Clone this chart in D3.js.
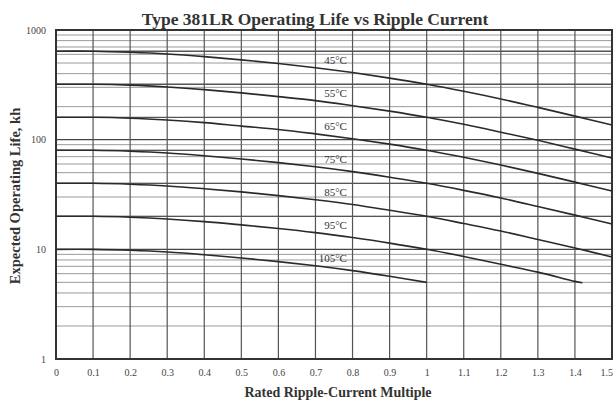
<!DOCTYPE html>
<html><head><meta charset="utf-8">
<script src="https://cdn.jsdelivr.net/npm/d3@7"></script>
<style>html,body{margin:0;padding:0;background:#fff;overflow:hidden}</style>
</head><body><svg id="c" width="613" height="404"></svg>
<script>
const title = "Type 381LR Operating Life vs Ripple Current";
const xTitle = "Rated Ripple-Current Multiple";
const yTitle = "Expected Operating Life, kh";
const xTicks = [0,0.1,0.2,0.3,0.4,0.5,0.6,0.7,0.8,0.9,1,1.1,1.2,1.3,1.4,1.5];
const xTickLabels = ["0","0.1","0.2","0.3","0.4","0.5","0.6","0.7","0.8","0.9","1","1.1","1.2","1.3","1.4","1.5"];
const yTicks = [1,10,100,1000];
const yTickLabels = ["1","10","100","1000"];
const heavyGrid = [20,40,80,160,320,640];
const seriesNames = ["45°C","55°C","65°C","75°C","85°C","95°C","105°C"];
const multiples = [0,0.1,0.2,0.3,0.4,0.5,0.6,0.7,0.8,0.9,1,1.1,1.2,1.3,1.4,1.5];
const multiples95 = [0,0.1,0.2,0.3,0.4,0.5,0.6,0.7,0.8,0.9,1,1.1,1.2,1.3,1.4,1.42];
const multiples105 = [0,0.1,0.2,0.3,0.4,0.5,0.6,0.7,0.8,0.9,1];
const life45 = [640,640,627,605,572,534,495,453,409,364,320,276,235,197,164,136];
const life55 = [320,320,314,302,286,267,247,227,204,182,160,138,117,98.6,82,68];
const life65 = [160,160,157,151,143,133,124,113,102,91,80,69,58.7,49.3,41,34];
const life75 = [80,80,78.4,75.6,71.4,66.7,61.8,56.6,51.1,45.4,40,34.5,29.4,24.6,20.5,17];
const life85 = [40,40,39.2,37.8,35.7,33.4,30.9,28.3,25.6,22.7,20,17.2,14.7,12.3,10.3,8.5];
const life95 = [20,20,19.6,18.9,17.9,16.7,15.5,14.2,12.8,11.4,10,8.6,7.3,6.2,5.1,4.95];
const life105 = [10,10,9.8,9.45,8.93,8.34,7.73,7.08,6.39,5.68,5.0];

const series = [
  {name: seriesNames[0], x: multiples, y: life45},
  {name: seriesNames[1], x: multiples, y: life55},
  {name: seriesNames[2], x: multiples, y: life65},
  {name: seriesNames[3], x: multiples, y: life75},
  {name: seriesNames[4], x: multiples, y: life85},
  {name: seriesNames[5], x: multiples95, y: life95},
  {name: seriesNames[6], x: multiples105, y: life105}
];

const svg = d3.select("#c");
const L = 56, R = 612, T = 30, B = 359;
const x = d3.scaleLinear().domain([0,1.5]).range([L,R]);
const y = d3.scaleLog().domain([1,1000]).range([B,T]);
const serif = "'Liberation Serif','DejaVu Serif',serif";

// minor horizontal grid
const minor = [];
for (let d = 1; d < 1000; d *= 10) for (let k = 2; k <= 9; k++) minor.push(d*k);
const g = svg.append("g");
g.selectAll("line.minor").data(minor).join("line")
  .attr("x1", L).attr("x2", R).attr("y1", d => y(d)).attr("y2", d => y(d))
  .attr("stroke", "#9a9a9a").attr("stroke-width", 1);
g.selectAll("line.heavy").data(heavyGrid).join("line")
  .attr("x1", L).attr("x2", R).attr("y1", d => y(d)).attr("y2", d => y(d))
  .attr("stroke", "#555").attr("stroke-width", 1.3);
g.selectAll("line.major").data(yTicks).join("line")
  .attr("x1", L).attr("x2", R).attr("y1", d => y(d)).attr("y2", d => y(d))
  .attr("stroke", "#444").attr("stroke-width", 1.4);
g.selectAll("line.vert").data(xTicks).join("line")
  .attr("x1", d => x(d)).attr("x2", d => x(d)).attr("y1", T).attr("y2", B)
  .attr("stroke", "#555").attr("stroke-width", 1.2);

// border
svg.append("rect").attr("x", L).attr("y", T).attr("width", R-L).attr("height", B-T)
  .attr("fill", "none").attr("stroke", "#333").attr("stroke-width", 2);

// axes via d3
const xAxis = d3.axisBottom(x).tickValues(xTicks).tickFormat((d,i) => xTickLabels[i]).tickSize(0).tickPadding(10);
const xa = svg.append("g").attr("transform", `translate(0,${B})`).call(xAxis);
xa.select(".domain").remove();
xa.selectAll("text").attr("font-family", serif).attr("font-size", 10).attr("fill", "#444");
xa.selectAll(".tick").filter(d => d === 1.5).select("text").attr("text-anchor", "end").attr("dx", "0.05em");
const yAxis = d3.axisLeft(y).tickValues(yTicks).tickFormat((d,i) => yTickLabels[i]).tickSize(0).tickPadding(10);
const ya = svg.append("g").attr("transform", `translate(${L},0)`).call(yAxis);
ya.select(".domain").remove();
ya.selectAll("text").attr("font-family", serif).attr("font-size", 10).attr("fill", "#444");

// curves
const line = d3.line().x(d => x(d[0])).y(d => y(d[1])).curve(d3.curveCatmullRom.alpha(0.5));
svg.append("g").selectAll("path").data(series).join("path")
  .attr("d", s => line(s.x.map((v,i) => [v, s.y[i]])))
  .attr("fill", "none").attr("stroke", "#2a2a2a").attr("stroke-width", 1.6);

// labels
svg.append("g").selectAll("text").data(series).join("text")
  .attr("x", x(0.785)).attr("y", s => y(s.y[7] + (s.y[8]-s.y[7])*0.5) - 6)
  .attr("text-anchor", "end").attr("font-family", serif).attr("font-size", 11)
  .attr("fill", "#333").text(s => s.name);

// titles
svg.append("text").attr("x", 315).attr("y", 25).attr("text-anchor", "middle")
  .attr("font-family", serif).attr("font-weight", "bold").attr("font-size", 17.5).attr("fill", "#333").text(title);
svg.append("text").attr("x", 338).attr("y", 397).attr("text-anchor", "middle")
  .attr("font-family", serif).attr("font-weight", "bold").attr("font-size", 14).attr("fill", "#333").text(xTitle);
svg.append("text").attr("transform", "translate(20,196) rotate(-90)").attr("text-anchor", "middle")
  .attr("font-family", serif).attr("font-weight", "bold").attr("font-size", 14.5).attr("fill", "#333").text(yTitle);
</script></body></html>
